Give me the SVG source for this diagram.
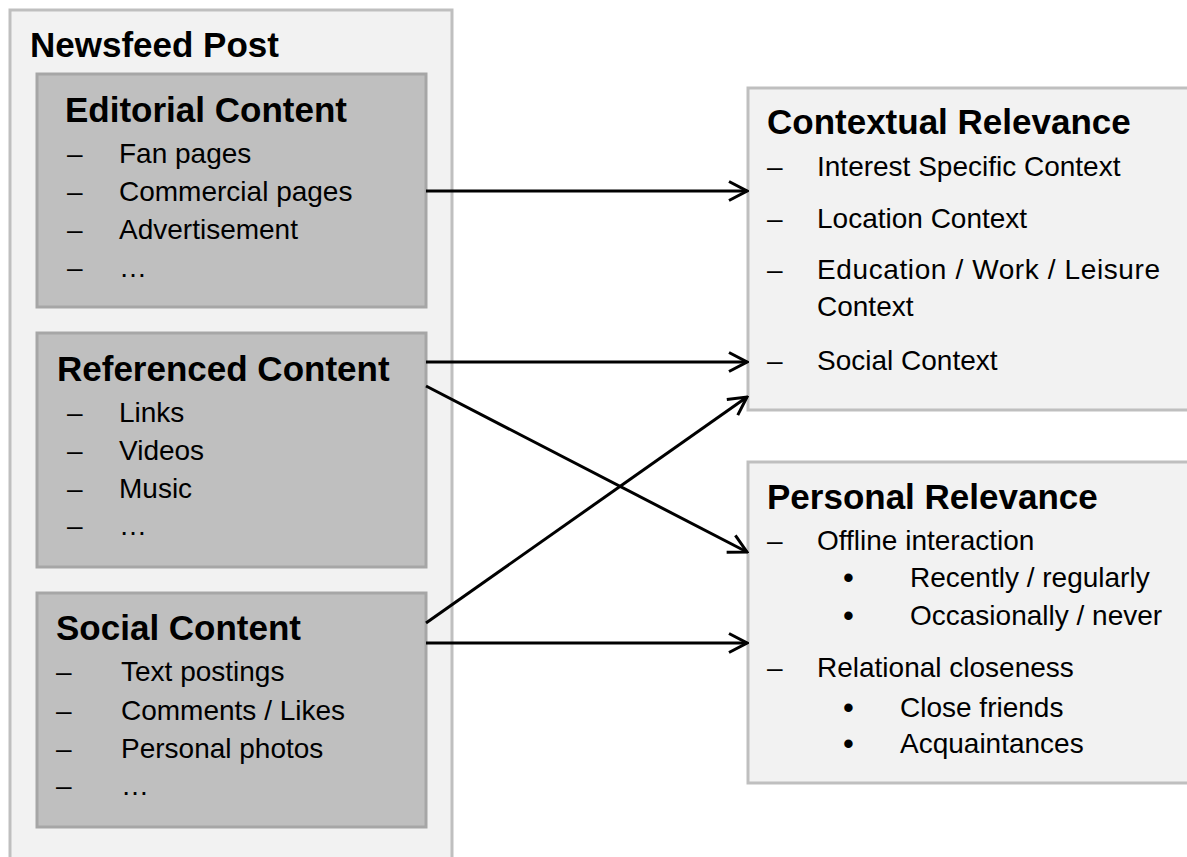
<svg xmlns="http://www.w3.org/2000/svg" width="1187" height="857" viewBox="0 0 1187 857">
<style>
.outer{fill:#f2f2f2;stroke:#bfbfbf;stroke-width:3}
.inner{fill:#bfbfbf;stroke:#a6a6a6;stroke-width:3}
.title{font-family:"Liberation Sans",Arial,sans-serif;font-weight:bold;font-size:35px;fill:#000}
.item{font-family:"Liberation Sans",Arial,sans-serif;font-size:28px;fill:#000}
.bul{font-size:31px}
.conn{stroke:#000;stroke-width:3;fill:none}
</style>
<defs>
<marker id="arr" markerUnits="userSpaceOnUse" markerWidth="24" markerHeight="24" viewBox="-22 -12 24 24" refX="0" refY="0" orient="auto">
<path d="M-18,-9.5 L0,0 L-18,9.5" fill="none" stroke="#000" stroke-width="3"/>
</marker>
</defs>
<rect width="1187" height="857" fill="#fff"/>

<g id="newsfeed">
<rect class="outer" x="10" y="10" width="442" height="870"/>
<text class="title" x="30" y="57">Newsfeed Post</text>
</g>

<g id="editorial">
<rect class="inner" x="37" y="74" width="389" height="233"/>
<text class="title" x="65" y="122">Editorial Content</text>
<g class="item">
<text x="67" y="163">–</text><text x="119" y="163">Fan pages</text>
<text x="67" y="201">–</text><text x="119" y="201">Commercial pages</text>
<text x="67" y="239">–</text><text x="119" y="239">Advertisement</text>
<text x="67" y="277">–</text><text x="119" y="277">…</text>
</g>
</g>

<g id="referenced">
<rect class="inner" x="37" y="333" width="389" height="234"/>
<text class="title" x="57" y="381">Referenced Content</text>
<g class="item">
<text x="67" y="422">–</text><text x="119" y="422">Links</text>
<text x="67" y="460">–</text><text x="119" y="460">Videos</text>
<text x="67" y="498">–</text><text x="119" y="498">Music</text>
<text x="67" y="535">–</text><text x="119" y="535">…</text>
</g>
</g>

<g id="social">
<rect class="inner" x="37" y="593" width="389" height="234"/>
<text class="title" x="56" y="640">Social Content</text>
<g class="item">
<text x="56" y="681">–</text><text x="121" y="681">Text postings</text>
<text x="56" y="720">–</text><text x="121" y="720">Comments / Likes</text>
<text x="56" y="758">–</text><text x="121" y="758">Personal photos</text>
<text x="56" y="795">–</text><text x="121" y="795">…</text>
</g>
</g>

<g id="contextual">
<rect class="outer" x="748" y="88" width="460" height="322"/>
<text class="title" x="767" y="134">Contextual Relevance</text>
<g class="item">
<text x="767" y="176">–</text><text x="817" y="176">Interest Specific Context</text>
<text x="767" y="228">–</text><text x="817" y="228">Location Context</text>
<text x="767" y="279">–</text><text x="817" y="279" textLength="343" lengthAdjust="spacing">Education / Work / Leisure</text>
<text x="817" y="316">Context</text>
<text x="767" y="370">–</text><text x="817" y="370">Social Context</text>
</g>
</g>

<g id="personal">
<rect class="outer" x="748" y="462" width="460" height="321"/>
<text class="title" x="767" y="509">Personal Relevance</text>
<g class="item">
<text x="767" y="550">–</text><text x="817" y="550">Offline interaction</text>
<text class="bul" x="843" y="588">•</text><text x="910" y="587">Recently / regularly</text>
<text class="bul" x="843" y="626">•</text><text x="910" y="625">Occasionally / never</text>
<text x="767" y="677">–</text><text x="817" y="677">Relational closeness</text>
<text class="bul" x="843" y="718">•</text><text x="900" y="717">Close friends</text>
<text class="bul" x="843" y="754">•</text><text x="900" y="753">Acquaintances</text>
</g>
</g>

<g id="connectors">
<line class="conn" x1="426" y1="191" x2="747" y2="191" marker-end="url(#arr)"/>
<line class="conn" x1="426" y1="362" x2="747" y2="362" marker-end="url(#arr)"/>
<line class="conn" x1="426" y1="386" x2="747" y2="552" marker-end="url(#arr)"/>
<line class="conn" x1="426" y1="623" x2="747" y2="397" marker-end="url(#arr)"/>
<line class="conn" x1="426" y1="643" x2="747" y2="643" marker-end="url(#arr)"/>
</g>
</svg>
